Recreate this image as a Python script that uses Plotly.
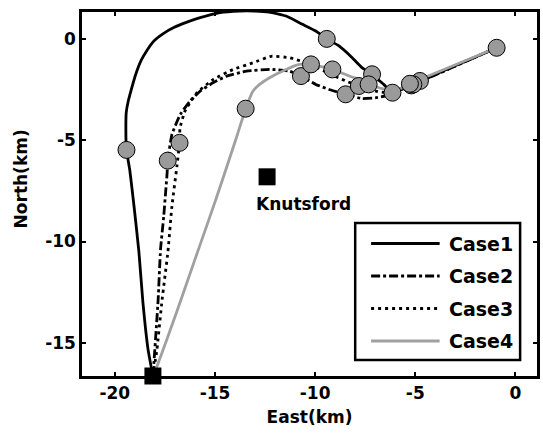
import plotly.graph_objects as go

# ---------------- data ----------------
case1_x = [-18.1, -18.34, -18.6, -18.8, -19.04, -19.25, -19.42, -19.45, -19.43, -19.33, -19.2,
           -18.98, -18.7, -18.4, -18.05, -17.6, -17.06, -16.4, -15.74, -14.75, -13.8, -13.0,
           -12.3, -11.45, -10.63, -9.97, -9.42, -8.81, -8.15, -7.66, -7.16, -6.58, -6.14,
           -5.5, -4.77, -0.94]
case1_y = [-16.65, -15.36, -13.0, -10.5, -8.28, -6.5, -5.47, -4.5, -3.6, -3.05, -2.56,
           -1.8, -1.07, -0.55, -0.08, 0.27, 0.58, 0.85, 1.07, 1.32, 1.4, 1.4,
           1.35, 1.15, 0.74, 0.41, 0.02, -0.33, -0.91, -1.4, -1.73, -2.23, -2.62,
           -2.4, -2.06, -0.42]

case2_x = [-18.1, -18.05, -17.84, -17.72, -17.56, -17.39, -17.36, -17.15, -16.73, -16.24, -15.74,
           -15.08, -14.42, -13.43, -12.2, -11.29, -10.71, -9.97, -9.31, -8.48, -7.66, -7.0, -6.5,
           -6.14, -5.2, -0.94]
case2_y = [-16.65, -16.0, -12.89, -10.4, -8.75, -6.6, -6.0, -4.7, -3.71, -3.05, -2.56,
           -2.14, -1.82, -1.57, -1.49, -1.57, -1.82, -2.23, -2.48, -2.72, -2.93, -2.9, -2.8,
           -2.64, -2.28, -0.42]

case3_x = [-18.1, -17.9, -17.64, -17.35, -17.15, -16.9, -16.77, -16.75, -16.5, -15.9, -15.08,
           -14.09, -13.1, -12.2, -11.29, -10.21, -9.3, -8.5, -7.82, -6.8, -6.14, -5.5, -5.1, -0.94]
case3_y = [-16.65, -15.35, -12.87, -10.5, -8.25, -6.27, -5.12, -4.4, -3.55, -2.64, -1.98,
           -1.49, -1.16, -0.84, -0.91, -1.24, -1.7, -2.05, -2.31, -2.6, -2.64, -2.4, -2.23, -0.42]

case4_x = [-18.1, -17.93, -16.9, -15.9, -14.95, -13.97, -13.47, -13.1, -12.77, -12.28, -11.45,
           -10.79, -10.21, -9.14, -8.2, -7.57, -7.33, -6.6, -5.9, -5.27, -0.94]
case4_y = [-16.65, -16.27, -13.45, -10.6, -7.9, -4.98, -3.43, -2.56, -2.23, -1.9, -1.49,
           -1.24, -1.24, -1.49, -1.85, -2.06, -2.23, -2.45, -2.5, -2.2, -0.42]

marker1_x = [-19.42, -9.42, -7.16, -6.14, -4.77]
marker1_y = [-5.47, 0.02, -1.73, -2.64, -2.06]
marker2_x = [-17.36, -10.71, -8.48, -5.2]
marker2_y = [-6.0, -1.82, -2.72, -2.28]
marker3_x = [-16.77, -10.21, -7.82, -5.1]
marker3_y = [-5.12, -1.24, -2.31, -2.23]
marker4_x = [-13.47, -9.14, -7.33, -5.27]
marker4_y = [-3.43, -1.49, -2.23, -2.2]
end_x = [-0.94]
end_y = [-0.42]

start_x = [-18.1]
start_y = [-16.65]
knutsford_x = [-12.4]
knutsford_y = [-6.8]
knutsford_label = "Knutsford"

case_names = ["Case1", "Case2", "Case3", "Case4"]
x_tick_vals = [-20, -15, -10, -5, 0]
x_tick_labels = ["-20", "-15", "-10", "-5", "0"]
y_tick_vals = [-15, -10, -5, 0]
y_tick_labels = ["-15", "-10", "-5", "0"]
x_title = "East(km)"
y_title = "North(km)"

# ---------------- style ----------------
FONT = "DejaVu Sans"
GREY_LINE = "#a0a0a0"
GREY_FILL = "#9a9a9a"
LW = 2.8
styles = [
    dict(color="black", width=LW, dash="solid"),
    dict(color="black", width=LW, dash="9px,3px,3px,3px"),
    dict(color="black", width=LW, dash="3px,4px"),
    dict(color=GREY_LINE, width=LW, dash="solid"),
]

W, H = 543, 437
L, R, T, B = 82, 3, 12, 61

fig = go.Figure()
paths = [(case1_x, case1_y), (case2_x, case2_y), (case3_x, case3_y), (case4_x, case4_y)]
for (px, py), st, nm in zip(paths, styles, case_names):
    fig.add_trace(go.Scatter(x=px, y=py, mode="lines", line=st, name=nm, showlegend=False,
                             line_shape="spline", line_smoothing=0.4))

mk = dict(size=17, color=GREY_FILL, line=dict(color="black", width=1))
for mx, my in [(marker1_x, marker1_y), (marker2_x, marker2_y), (marker3_x, marker3_y),
               (marker4_x, marker4_y), (end_x, end_y)]:
    fig.add_trace(go.Scatter(x=mx, y=my, mode="markers", marker=mk, showlegend=False))

sq = dict(size=17, color="black", symbol="square", line=dict(width=0))
fig.add_trace(go.Scatter(x=start_x, y=start_y, mode="markers", marker=sq,
                         showlegend=False, cliponaxis=False))
fig.add_trace(go.Scatter(x=knutsford_x, y=knutsford_y, mode="markers", marker=sq,
                         showlegend=False))

fig.add_annotation(x=knutsford_x[0], y=knutsford_y[0], text=knutsford_label, showarrow=False,
                   xanchor="left", yanchor="middle", xshift=-13, yshift=-27,
                   font=dict(family=FONT, size=17, color="black", weight="bold"))

# ---------------- manual legend (paper coords from pixel layout) ----------------
pw, ph = W - L - R, H - T - B
def px2x(p):
    return (p - L) / pw
def py2y(p):
    return (H - B - p) / ph

fig.add_shape(type="rect", xref="paper", yref="paper",
              x0=px2x(357), x1=px2x(523), y0=py2y(360), y1=py2y(223),
              line=dict(color="black", width=2.5), fillcolor="white", layer="above")
rows = [243.5, 276, 308.5, 341]
for ry, st, nm in zip(rows, styles, case_names):
    fig.add_shape(type="line", xref="paper", yref="paper",
                  x0=px2x(373), x1=px2x(442), y0=py2y(ry), y1=py2y(ry),
                  line=st, layer="above")
    fig.add_annotation(xref="paper", yref="paper", x=px2x(449), y=py2y(ry), text=nm,
                       showarrow=False, xanchor="left", yanchor="middle",
                       font=dict(family=FONT, size=19, color="black", weight="bold"))

fig.add_annotation(xref="paper", yref="paper", x=px2x(21), y=py2y(179), text=y_title,
                   textangle=-90, showarrow=False, xanchor="center", yanchor="middle",
                   font=dict(family=FONT, size=17, color="black", weight="bold"))

axis_common = dict(showgrid=False, zeroline=False, showline=True, linecolor="black",
                   linewidth=2.5, mirror="ticks", ticks="inside", ticklen=4, tickwidth=2,
                   tickcolor="black",
                   tickfont=dict(family=FONT, size=17, color="black", weight="bold"))

fig.update_layout(
    width=W, height=H, margin=dict(l=L, r=R, t=T, b=B),
    plot_bgcolor="white", paper_bgcolor="white",
    xaxis=dict(range=[-21.64, 1.075], tickvals=x_tick_vals, ticktext=x_tick_labels,
               title=dict(text=x_title, standoff=9,
                          font=dict(family=FONT, size=17, color="black", weight="bold")),
               **axis_common),
    yaxis=dict(range=[-16.65, 1.35], tickvals=y_tick_vals, ticktext=y_tick_labels,
               **axis_common),
    showlegend=False,
)

fig.write_html("out.html")
